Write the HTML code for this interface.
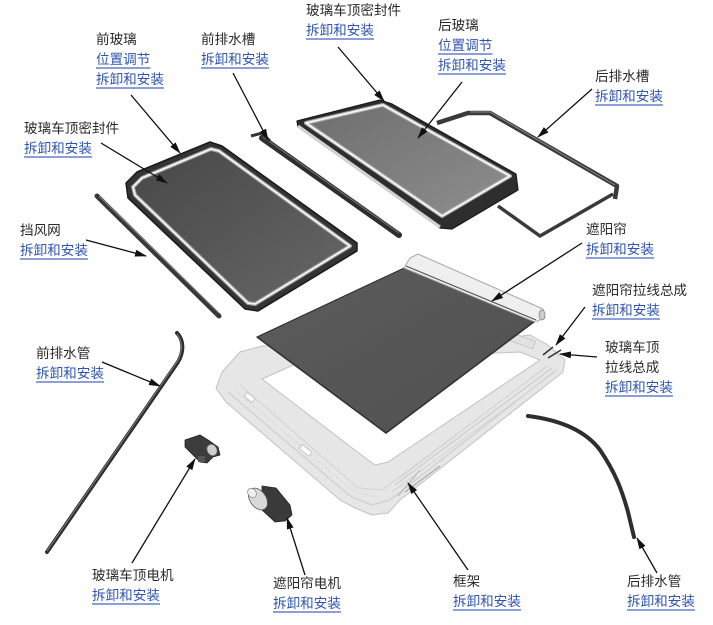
<!DOCTYPE html>
<html><head><meta charset="utf-8">
<style>
html,body{margin:0;padding:0;background:#fff;}
#w{position:relative;width:713px;height:625px;overflow:hidden;background:#fff;}
svg{position:absolute;left:0;top:0;}
.l{position:absolute;font-family:"Liberation Sans","Noto Sans CJK SC",sans-serif;font-size:13.6px;line-height:20px;color:#2a2a2a;white-space:nowrap;}
.l span{display:block;}
.k{color:#2f55b0;text-decoration:underline;text-decoration-color:#8aa0d6;text-decoration-thickness:1.5px;text-underline-offset:3px;}
</style></head><body><div id="w">
<svg width="713" height="625" viewBox="0 0 713 625">
<defs>
<marker id="ah" markerWidth="12" markerHeight="7" refX="11" refY="3.5" orient="auto" markerUnits="userSpaceOnUse"><path d="M0,0 L12,3.5 L0,7 z" fill="#111"/></marker>
<linearGradient id="gf" x1="0" y1="0" x2="1" y2="1"><stop offset="0" stop-color="#474747"/><stop offset="1" stop-color="#676767"/></linearGradient>
<linearGradient id="gr" x1="0" y1="0" x2="1" y2="1"><stop offset="0" stop-color="#6e6e6e"/><stop offset="1" stop-color="#8e8e8e"/></linearGradient>
<linearGradient id="gs" x1="0" y1="0" x2="1" y2="1"><stop offset="0" stop-color="#5c5c5c"/><stop offset="1" stop-color="#505050"/></linearGradient>
</defs>

<!-- frame -->
<path fill-rule="evenodd" d="M216,388 L222,372 L240,352 L262,346 L505,338 L530,335 L548,345 L565,360 L563,372 L400,500 L388,513 L372,515 L355,508 L340,500 L226,402 Z M262,379 L300,362 L520,352 L540,360 L388,462 L375,465 L368,460 Z" fill="#e6e6e6" stroke="#c2c2c2" stroke-width="1"/>
<polyline points="228,392 350,496 372,505 390,500 556,370" fill="none" stroke="#cfcfcf" stroke-width="1.2"/>
<polyline points="240,385 358,488 382,490 548,366" fill="none" stroke="#d2d2d2" stroke-width="1"/>
<polyline points="234,389 354,492 377,497" fill="none" stroke="#d8d8d8" stroke-width="1" stroke-dasharray="3,2"/>
<line x1="395" y1="485" x2="552" y2="368" stroke="#c8c8c8" stroke-width="1"/>
<line x1="400" y1="478" x2="547" y2="366" stroke="#d6d6d6" stroke-width="1"/>
<line x1="392" y1="492" x2="555" y2="372" stroke="#d4d4d4" stroke-width="1"/>
<line x1="398" y1="496" x2="420" y2="470" stroke="#b8b8b8" stroke-width="1"/>
<line x1="405" y1="492" x2="440" y2="466" stroke="#aaa" stroke-width="1.2"/>
<rect x="245" y="395" width="10" height="5" fill="#fff" stroke="#c8c8c8" transform="rotate(40 250 397)"/>
<rect x="300" y="448" width="12" height="5" fill="#fff" stroke="#c8c8c8" transform="rotate(40 306 450)"/>
<rect x="505" y="336" width="30" height="8" fill="#e2e2e2" stroke="#c6c6c6" transform="rotate(20 520 340)"/>

<!-- sunshade -->
<polygon points="257,337 404,268 535,321 386,433" fill="url(#gs)" stroke="#2a2a2a" stroke-width="1"/>
<polyline points="257,337 386,433 535,321" fill="none" stroke="#333" stroke-width="1.6"/>
<polygon points="404,268 410,258 418,254 543,309 545,318 535,322" fill="#efefef" stroke="#a8a8a8" stroke-width="1"/>
<line x1="406" y1="266" x2="536" y2="320" stroke="#555" stroke-width="1.2"/>
<ellipse cx="542" cy="315" rx="3" ry="5" fill="#ccc" stroke="#888" stroke-width="0.8"/>

<!-- cable parts -->
<line x1="543" y1="355" x2="553" y2="347" stroke="#333" stroke-width="1.5"/>
<line x1="548" y1="358" x2="561" y2="350" stroke="#333" stroke-width="1.5"/>

<!-- front glass -->
<path d="M126,183 L137,172 L210,142 L222,146 L357,243 L357,251 L258,311 L245,309 L128,198 Z" fill="#343434" stroke="#1a1a1a" stroke-width="1.5" stroke-linejoin="round"/>
<path d="M133,187 L142,178 L211,149 L219,151 L350,246 L255,304 L248,303 L135,195 Z" fill="url(#gf)" stroke="#9a9a9a" stroke-width="4" stroke-linejoin="round"/>
<path d="M133,187 L142,178 L211,149 L219,151 L350,246 L255,304 L248,303 L135,195 Z" fill="none" stroke="#f5f5f5" stroke-width="1.8" stroke-linejoin="round"/>

<!-- front drain channel -->
<line x1="262" y1="138" x2="399" y2="235" stroke="#2e2e2e" stroke-width="6" stroke-linecap="round"/>
<line x1="263" y1="137" x2="399" y2="233" stroke="#777" stroke-width="1"/>
<polyline points="251,136 262,133 270,141" fill="none" stroke="#333" stroke-width="3"/>

<!-- windshield deflector -->
<line x1="97" y1="196" x2="219" y2="316" stroke="#383838" stroke-width="5" stroke-linecap="round"/>
<line x1="99" y1="196" x2="219" y2="313" stroke="#888" stroke-width="1"/>

<!-- rear drain channel -->
<polyline points="437,123 468,113 490,113 617,186 615,199" fill="none" stroke="#3a3a3a" stroke-width="4.5" stroke-linejoin="round"/>
<polyline points="613,194 540,236 498,206" fill="none" stroke="#3a3a3a" stroke-width="3.5" stroke-linejoin="round"/>
<polyline points="470,112 490,112 615,185" fill="none" stroke="#8a8a8a" stroke-width="1"/>

<!-- rear glass -->
<path d="M297,121 L380,100 L392,104 L516,174 L518,190 L452,229 L440,228 L298,127 Z" fill="#2e2e2e" stroke="#1a1a1a" stroke-width="1.2" stroke-linejoin="round"/>
<line x1="298" y1="126" x2="440" y2="227" stroke="#d2d2d2" stroke-width="3"/>
<polygon points="306,123 383,105 510,176 442,216" fill="url(#gr)" stroke="#a8a8a8" stroke-width="4" stroke-linejoin="round"/>
<polygon points="306,123 383,105 510,176 442,216" fill="none" stroke="#f6f6f6" stroke-width="1.8" stroke-linejoin="round"/>

<!-- front drain pipe -->
<path d="M177,333 C184,340 184,352 178,362 L47,552" fill="none" stroke="#2e2e2e" stroke-width="4" stroke-linecap="round"/>
<path d="M177,334 C183,341 183,352 177,362 L47,551" fill="none" stroke="#8a8a8a" stroke-width="0.8"/>

<!-- rear drain pipe -->
<path d="M528,416 C560,420 585,430 600,450 C615,472 622,490 628,512 L634,537" fill="none" stroke="#2e2e2e" stroke-width="4" stroke-linecap="round"/>

<!-- glass roof motor -->
<polygon points="185,440 200,435 208,440 218,447 220,455 213,457 207,463 200,462 188,450 185,447" fill="#3c3c3c" stroke="#222" stroke-width="0.8"/>
<ellipse cx="212" cy="450" rx="5" ry="6" fill="#cfcfcf" stroke="#555" stroke-width="0.8" transform="rotate(-30 212 450)"/>
<rect x="198" y="456" width="7" height="6" fill="#555"/>

<!-- sunshade motor -->
<polygon points="262,486 276,488 290,505 292,515 285,521 275,522 262,510" fill="#3a3a3a" stroke="#222" stroke-width="0.8"/>
<ellipse cx="258" cy="499" rx="8" ry="12" fill="#d9d9d9" stroke="#555" stroke-width="0.8" transform="rotate(-35 258 499)"/>
<ellipse cx="252" cy="493" rx="4" ry="5" fill="#f0f0f0" stroke="#777" stroke-width="0.6" transform="rotate(-35 252 493)"/>

<!-- arrows -->
<g stroke="#111" stroke-width="1.3" marker-end="url(#ah)">
<line x1="131" y1="95" x2="180" y2="153"/>
<line x1="233" y1="73" x2="268" y2="140"/>
<line x1="101" y1="143" x2="167" y2="183"/>
<line x1="86" y1="240" x2="146" y2="256"/>
<line x1="338" y1="47" x2="384" y2="101"/>
<line x1="462" y1="82" x2="418" y2="138"/>
<line x1="592" y1="89" x2="538" y2="137"/>
<line x1="582" y1="243" x2="492" y2="301"/>
<line x1="585" y1="307" x2="556" y2="345"/>
<line x1="597" y1="357" x2="560" y2="354"/>
<line x1="102" y1="362" x2="160" y2="386"/>
<line x1="132" y1="563" x2="195" y2="459"/>
<line x1="305" y1="575" x2="287" y2="518"/>
<line x1="468" y1="570" x2="408" y2="483"/>
<line x1="657" y1="573" x2="637" y2="538"/>
</g>
</svg>

<div class="l" style="left:96px;top:30px"><span>前玻璃</span><span class="k">位置调节</span><span class="k">拆卸和安装</span></div>
<div class="l" style="left:201px;top:30px"><span>前排水槽</span><span class="k">拆卸和安装</span></div>
<div class="l" style="left:306px;top:1px"><span>玻璃车顶密封件</span><span class="k">拆卸和安装</span></div>
<div class="l" style="left:438px;top:16px"><span>后玻璃</span><span class="k">位置调节</span><span class="k">拆卸和安装</span></div>
<div class="l" style="left:595px;top:67px"><span>后排水槽</span><span class="k">拆卸和安装</span></div>
<div class="l" style="left:24px;top:119px"><span>玻璃车顶密封件</span><span class="k">拆卸和安装</span></div>
<div class="l" style="left:20px;top:221px"><span>挡风网</span><span class="k">拆卸和安装</span></div>
<div class="l" style="left:586px;top:220px"><span>遮阳帘</span><span class="k">拆卸和安装</span></div>
<div class="l" style="left:592px;top:281px"><span>遮阳帘拉线总成</span><span class="k">拆卸和安装</span></div>
<div class="l" style="left:605px;top:338px"><span>玻璃车顶</span><span>拉线总成</span><span class="k">拆卸和安装</span></div>
<div class="l" style="left:36px;top:344px"><span>前排水管</span><span class="k">拆卸和安装</span></div>
<div class="l" style="left:92px;top:566px"><span>玻璃车顶电机</span><span class="k">拆卸和安装</span></div>
<div class="l" style="left:273px;top:574px"><span>遮阳帘电机</span><span class="k">拆卸和安装</span></div>
<div class="l" style="left:453px;top:572px"><span>框架</span><span class="k">拆卸和安装</span></div>
<div class="l" style="left:627px;top:572px"><span>后排水管</span><span class="k">拆卸和安装</span></div>
</div></body></html>
